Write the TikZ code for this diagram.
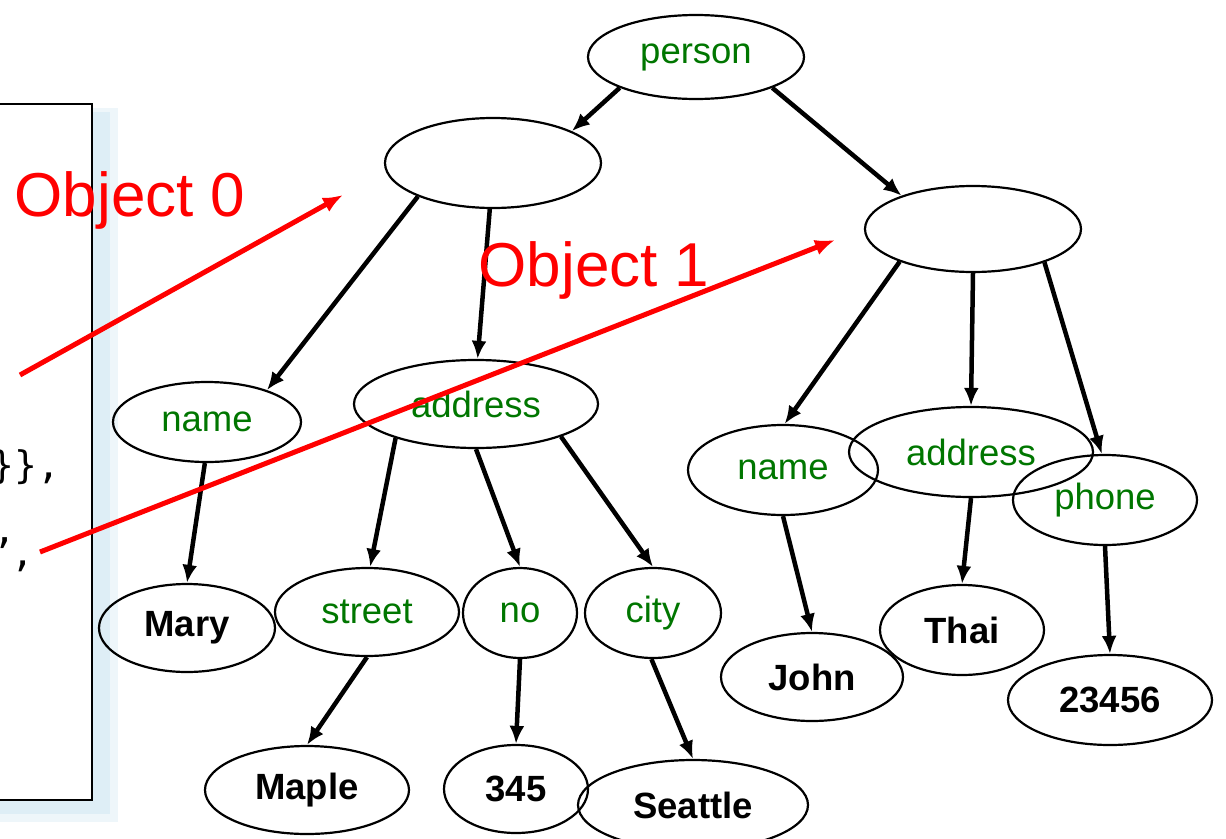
\documentclass[tikz,border=0pt]{standalone}
\usepackage{fontspec}
\setmainfont{Liberation Sans}
\setmonofont{DejaVu Sans Mono}
\usetikzlibrary{arrows,arrows.meta,shapes}
\definecolor{labelgreen}{RGB}{0,118,0}
\definecolor{shadowblue}{RGB}{222,238,246}
\definecolor{shadowpale}{RGB}{238,246,250}

\tikzset{
  tag/.style={ellipse, draw, line width=2.2pt, inner sep=0pt, text=labelgreen,
    font=\fontsize{36.5}{40}\selectfont},
  val/.style={ellipse, draw, line width=2.2pt, inner sep=0pt,
    font=\bfseries\fontsize{36.5}{40}\selectfont},
  edge/.style={->, >={Latex[length=18pt,width=15pt]}, line width=4.5pt},
  objline/.style={->, >={Latex[length=20pt,width=16pt]}, red, line width=5pt},
  objtext/.style={text=red, font=\fontsize{62}{70}\selectfont},
  code/.style={anchor=base east, font=\ttfamily\fontsize{38}{40}\selectfont},
}

\begin{document}
\begin{tikzpicture}[x=1pt,y=-1pt]
\useasboundingbox (0,0) rectangle (1226,838);
% text box on the left, with its shadow
    \fill[shadowpale] (-10,108) rectangle (118,822);
    \fill[shadowblue] (-10,112) rectangle (110,814);
    \draw[line width=2.2pt, fill=white] (-10,104) rectangle (92,800);
    \node[code] (close) at (64,478) {\}\},};
    \node[code] (quote) at (38,566) {”,};

    % root and the two objects
    \node[tag, minimum width=216pt, minimum height=84pt] (person) at (696,57) {person};
    \node[tag, minimum width=216pt, minimum height=90pt] (obj0) at (493,163) {};
    \node[tag, minimum width=216pt, minimum height=86pt] (obj1) at (973,229) {};

    % object 0
    \node[tag, minimum width=188pt, minimum height=80pt] (name0) at (207,422) {name};
    \node[tag, minimum width=244pt, minimum height=88pt] (addr0) at (476,404) {address};
    \node[val, minimum width=176pt, minimum height=88pt] (mary) at (187,628) {Mary};
    \node[tag, minimum width=184pt, minimum height=88pt] (street) at (367,612) {street};
    \node[tag, minimum width=114pt, minimum height=90pt] (no) at (520,613) {no};
    \node[tag, minimum width=136pt, minimum height=90pt] (city) at (653,613) {city};
    \node[val, minimum width=204pt, minimum height=88pt] (maple) at (307,790) {Maple};
    \node[val, minimum width=144pt, minimum height=88pt] (num) at (516,789) {345};
    \node[val, minimum width=230pt, minimum height=90pt] (seattle) at (693,805) {Seattle};

    % object 1
    \node[tag, minimum width=190pt, minimum height=90pt] (name1) at (783,470) {name};
    \node[tag, minimum width=244pt, minimum height=90pt] (addr1) at (971,452) {address};
    \node[tag, minimum width=184pt, minimum height=90pt] (phone) at (1105,500) {phone};
    \node[val, minimum width=182pt, minimum height=88pt] (john) at (812,677) {John};
    \node[val, minimum width=164pt, minimum height=90pt] (thai) at (962,630) {Thai};
    \node[val, minimum width=204pt, minimum height=90pt] (phonenum) at (1110,700) {23456};

    % tree edges
    \draw[edge] (person.202) -- (obj0.22);
    \draw[edge] (person.338) -- (obj1.155);
    \draw[edge] (obj0.204) -- (name0.28);
    \draw[edge] (obj0.266) -- (addr0.88);
    \draw[edge] (obj1.204) -- (name1.88);
    \draw[edge] (obj1.270) -- (addr1.90);
    \draw[edge] (obj1.335) -- (phone.94);
    \draw[edge] (name0.267) -- (mary.90);
    \draw[edge] (addr0.203) -- (street.86);
    \draw[edge] (addr0.270) -- (no.90);
    \draw[edge] (addr0.339) -- (city.90);
    \draw[edge] (street.270) -- (maple.90);
    \draw[edge] (no.270) -- (num.90);
    \draw[edge] (city.268) -- (seattle.90);
    \draw[edge] (name1.270) -- (john.90);
    \draw[edge] (addr1.270) -- (thai.90);
    \draw[edge] (phone.270) -- (phonenum.90);

    % red pointers from the text
    \coordinate (from0) at (20,375);
    \coordinate (to0) at (343,195);
    \coordinate (from1) at (40,552);
    \coordinate (to1) at (835,240);
    \draw[objline] (from0) -- (to0);
    \draw[objline] (from1) -- (to1);
    \node[objtext] (label0) at (130,200) {Object 0};
    \node[objtext] (label1) at (594,270) {Object 1};
\end{tikzpicture}
\end{document}
